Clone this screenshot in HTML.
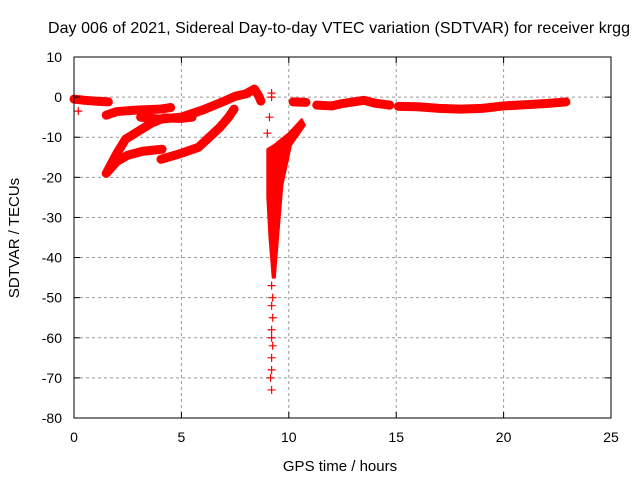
<!DOCTYPE html>
<html><head><meta charset="utf-8"><style>
body{margin:0;background:#fff;}
svg{display:block;font-family:"Liberation Sans",sans-serif;}
</style></head><body>
<svg id="chart" width="640" height="480">
<text x="339" y="33" font-size="16" text-anchor="middle" textLength="582">Day 006 of 2021, Sidereal Day-to-day VTEC variation (SDTVAR) for receiver krgg</text>
<text x="340" y="471" font-size="15" text-anchor="middle">GPS time / hours</text>
<text transform="translate(19,238) rotate(-90)" font-size="15" text-anchor="middle">SDTVAR / TECUs</text>
<g id="grid"></g><g id="marks"></g>
<rect x="74" y="57" width="537" height="361" fill="none" stroke="#000"/>
<g id="ticks"></g>
</svg>
<script>
const xTicks=[0,5,10,15,20,25];
const yTicks=[10,0,-10,-20,-30,-40,-50,-60,-70,-80];
const bandA=[[0,-0.5],[0.5,-0.8],[1,-1],[1.6,-1.2]];
const bandB=[[1.5,-4.5],[2,-3.6],[3,-3.2],[4,-3],[4.5,-2.6]];
const bandC=[[1.55,-18.5],[2,-14],[2.4,-10.5],[3,-8.5],[3.6,-6.5],[4.2,-5.2],[5,-5.3],[5.5,-5]];
const bandD=[[3.1,-5],[4,-5.5],[5,-5],[6,-3.2],[7,-1],[7.5,0.2],[8,0.8],[8.4,2],[8.6,0.3],[8.7,-1]];
const bandE=[[1.5,-19],[2,-16],[2.5,-14.5],[3.2,-13.5],[4.1,-13]];
const bandF=[[4.05,-15.5],[5,-14],[5.8,-12.5],[6.3,-10],[6.8,-7.5],[7.2,-5],[7.45,-3]];
const bandG=[[10.2,-1.2],[10.8,-1.3]];
const bandH=[[11.3,-2],[12,-2.2],[12.5,-1.6],[13,-1.2],[13.5,-0.8],[14,-1.5],[14.7,-2]];
const bandI=[[15.1,-2.3],[16,-2.4],[17,-2.8],[18,-3],[19,-2.8],[20,-2.2],[21,-1.9],[22,-1.6],[22.9,-1.2]];
const spike=[[9.0,-13],[9.3,-12],[10,-9],[10.6,-5.5],[10.75,-7],[10.1,-12],[9.7,-22],[9.5,-35],[9.35,-45],[9.25,-45],[9.1,-35],[9.0,-25]];
const sparse=[[0.2,-3.5],[9.2,1],[9.2,0],[9.1,-5],[9.0,-9],[9.2,-47],[9.25,-50],[9.2,-52],[9.25,-55],[9.2,-58],[9.2,-60],[9.25,-62],[9.2,-65],[9.2,-68],[9.15,-70],[9.2,-73]];
const X=h=>74+h*537/25, Y=v=>57+(10-v)*361/90;
const NS="http://www.w3.org/2000/svg";
function mk(t,a,p){const e=document.createElementNS(NS,t);for(const k in a)e.setAttribute(k,a[k]);p.appendChild(e);return e;}
const grid=document.getElementById('grid'),ticks=document.getElementById('ticks'),marks=document.getElementById('marks');
xTicks.forEach(t=>{const x=X(t);
 if(t>0&&t<25){const g=mk('line',{x1:x,x2:x,y1:57,y2:418,stroke:'#999','stroke-dasharray':'3,3'},grid);
 
 }
 mk('line',{x1:x,x2:x,y1:418,y2:412,stroke:'#000'},ticks);mk('line',{x1:x,x2:x,y1:57,y2:63,stroke:'#000'},ticks);
 const l=mk('text',{x:x,y:442,'font-size':14,'text-anchor':'middle'},ticks);l.textContent=t;
 
 });
yTicks.forEach(t=>{const y=Y(t);
 if(t<10&&t>-80){const g=mk('line',{x1:74,x2:611,y1:y,y2:y,stroke:'#999','stroke-dasharray':'3,3'},grid);
 
 }
 mk('line',{x1:74,x2:80,y1:y,y2:y,stroke:'#000'},ticks);mk('line',{x1:611,x2:605,y1:y,y2:y,stroke:'#000'},ticks);
 const l=mk('text',{x:62,y:y+5,'font-size':14,'text-anchor':'end'},ticks);l.textContent=t;
 
 });
function plus(h,v){const x=X(h),y=Y(v);const p=mk('path',{d:`M${x-4},${y}h8M${x},${y-4}v8`,stroke:'#f00','stroke-width':1.2},marks);
 
 }
[bandA,bandB,bandC,bandD,bandE,bandF,bandG,bandH,bandI].forEach(b=>{
 const pl=mk('polyline',{points:b.map(p=>X(p[0])+','+Y(p[1])).join(' '),fill:'none',stroke:'#f00','stroke-width':9,'stroke-linejoin':'round','stroke-linecap':'round'},marks);
 
 
 b.forEach(p=>plus(p[0],p[1]));});
const sp=mk('polygon',{points:spike.map(p=>X(p[0])+','+Y(p[1])).join(' '),fill:'#f00',stroke:'#f00','stroke-width':2,'stroke-linejoin':'round'},marks);


sparse.forEach(p=>plus(p[0],p[1]));
</script>
</body></html>
